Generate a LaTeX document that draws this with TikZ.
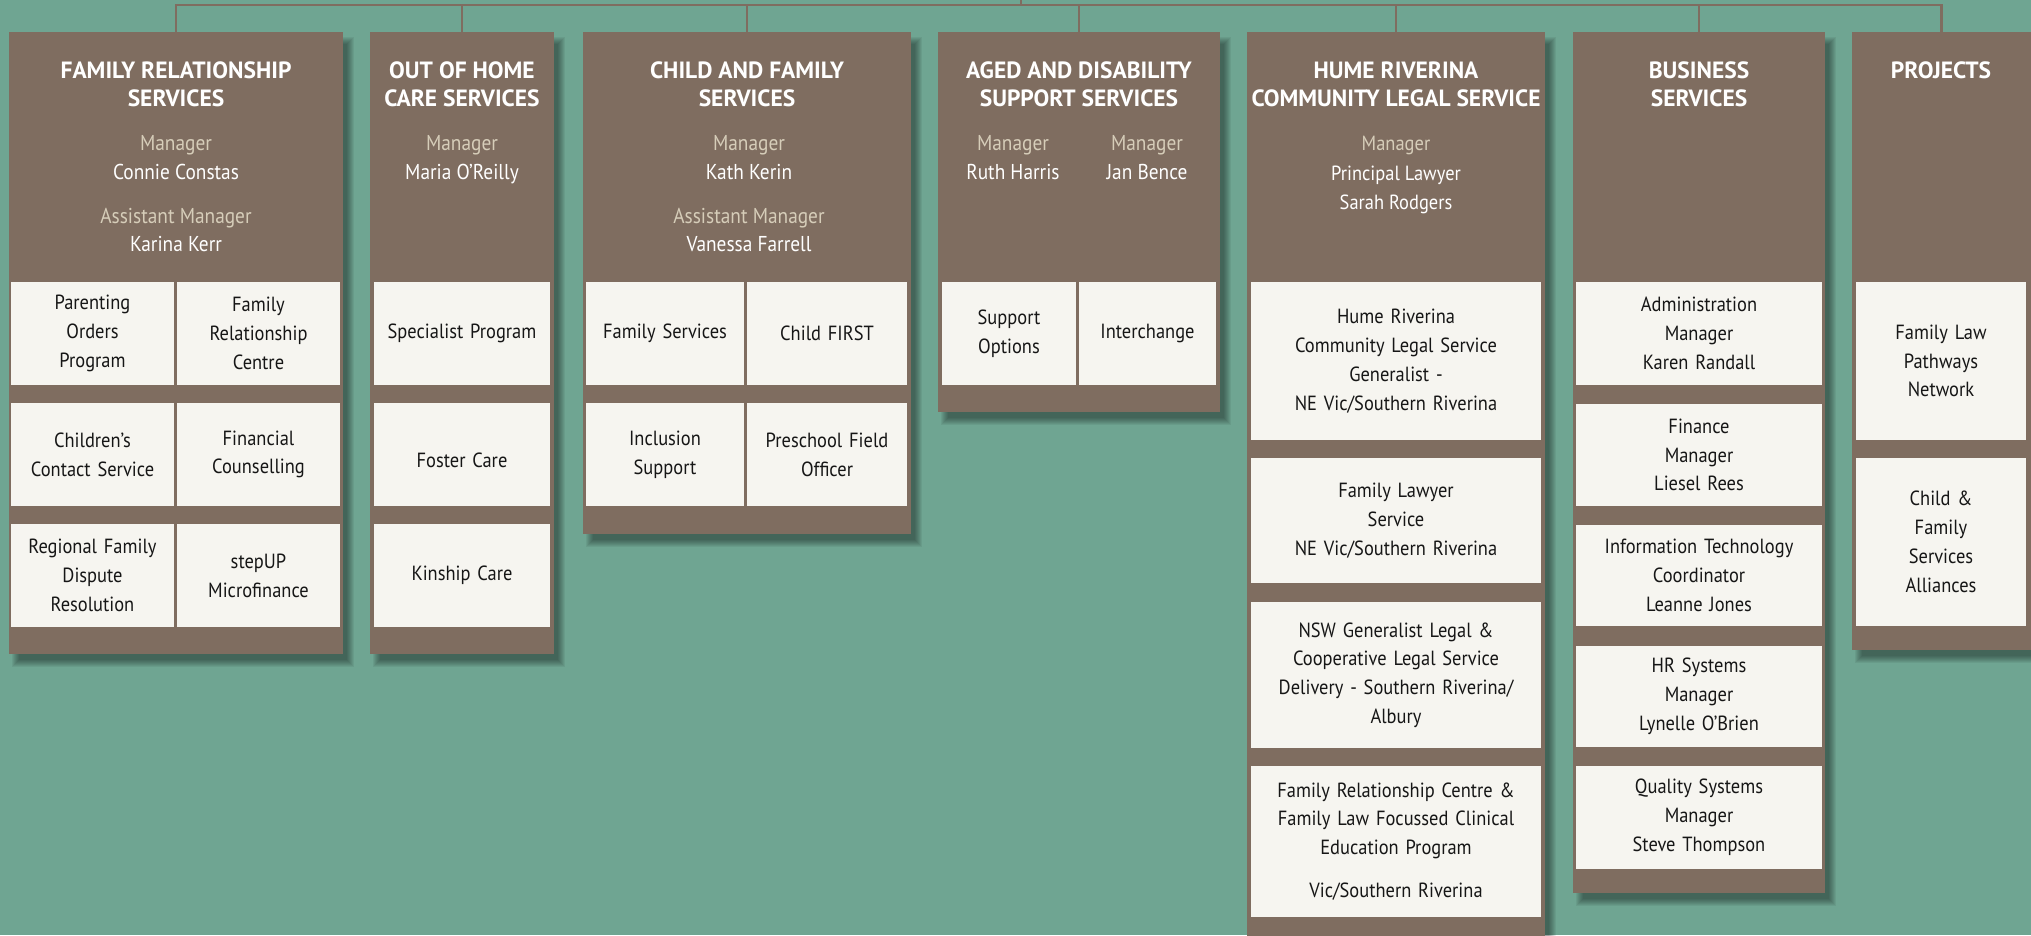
\documentclass[tikz,border=0pt]{standalone}
\usepackage{fontspec}
\setmainfont{PT Sans}[FakeStretch=0.9]
\newfontfamily\ttlfont{PT Sans}
\definecolor{bg}{HTML}{6FA592}
\definecolor{brn}{HTML}{7F6D60}
\definecolor{wbx}{HTML}{F6F5F0}
\definecolor{mgr}{HTML}{D6CDB9}
\definecolor{ink}{HTML}{161616}
\tikzset{
 panel/.style={fill=brn, draw=none, anchor=north west, inner sep=0pt, outer sep=0pt},
 wbox/.style={fill=wbx, draw=none, anchor=north west, inner sep=0pt, outer sep=0pt, align=center, text=ink, font=\fontsize{20.5}{28.8}\selectfont},
 ttl/.style={text=white, font=\ttlfont\bfseries\fontsize{23.5}{29}\selectfont, anchor=base, inner sep=0pt},
 lbl/.style={text=mgr, font=\fontsize{21.5}{29}\selectfont, anchor=base, inner sep=0pt},
 nm/.style={text=white, font=\fontsize{21.5}{29}\selectfont, anchor=base, inner sep=0pt},
 small/.style={font=\fontsize{20.5}{29}\selectfont},
 link/.style={draw=brn, line width=2.2pt},
}
\newcommand\pshadow[4]{%
 \foreach \k in {0,...,7}{\fill[black,opacity=0.055] ({#1+7-4+\k},{#2+9-4+\k}) rectangle ({#3+7+4-\k},{#4+9+4-\k});}}
\newcommand\mkpanel[5]{\pshadow{#2}{#3}{#4}{#5}%
 \node[panel, minimum width={#4-#2}, minimum height={#5-#3}] (#1) at (#2,#3) {};}
\newcommand\wb[6]{\node[wbox, minimum width={#4-#2}, minimum height={#5-#3}, text width={#4-#2-6}] (#1) at (#2,#3) {#6};}
\begin{document}
\begin{tikzpicture}[x=1pt,y=-1pt]
\fill[bg] (0,0) rectangle (2031,935);
\useasboundingbox (0,0) rectangle (2031,935);
\clip (0,0) rectangle (2031,935);
% panels
\mkpanel{frs}{9}{32}{343}{654}
\mkpanel{ooh}{370}{32}{554}{654}
\mkpanel{cfs}{583}{32}{911}{534}
\mkpanel{ads}{938}{32}{1220}{412}
\mkpanel{hr}{1247}{32}{1545}{950}
\mkpanel{bs}{1573}{32}{1825}{893}
\mkpanel{proj}{1852}{32}{2031}{650}
% connectors
\coordinate (top) at (1021,-2);
\coordinate (bus) at (1021,5);
\draw[link] (top) -- (bus);
\foreach \p in {frs,ooh,cfs,ads,hr,bs,proj}{\draw[link] (\p.north) |- (bus);}
% FRS header
\node[ttl] (frs-t1) at (176,78) {FAMILY RELATIONSHIP};
\node[ttl] (frs-t2) at (176,106) {SERVICES};
\node[lbl] (frs-m1) at (176,150) {Manager};
\node[nm] (frs-n1) at (176,179) {Connie Constas};
\node[lbl] (frs-m2) at (176,223) {Assistant Manager};
\node[nm] (frs-n2) at (176,251) {Karina Kerr};
% OOH header
\node[ttl] (ooh-t1) at (462,78) {OUT OF HOME};
\node[ttl] (ooh-t2) at (462,106) {CARE SERVICES};
\node[lbl] (ooh-m1) at (462,150) {Manager};
\node[nm] (ooh-n1) at (462,179) {Maria O’Reilly};
% CFS header
\node[ttl] (cfs-t1) at (747,78) {CHILD AND FAMILY};
\node[ttl] (cfs-t2) at (747,106) {SERVICES};
\node[lbl] (cfs-m1) at (749,150) {Manager};
\node[nm] (cfs-n1) at (749,179) {Kath Kerin};
\node[lbl] (cfs-m2) at (749,223) {Assistant Manager};
\node[nm] (cfs-n2) at (749,251) {Vanessa Farrell};
% ADS header
\node[ttl] (ads-t1) at (1079,78) {AGED AND DISABILITY};
\node[ttl] (ads-t2) at (1079,106) {SUPPORT SERVICES};
\node[lbl] (ads-m1) at (1013,150) {Manager};
\node[nm] (ads-n1) at (1013,179) {Ruth Harris};
\node[lbl] (ads-m2) at (1147,150) {Manager};
\node[nm] (ads-n2) at (1147,179) {Jan Bence};
% HR header
\node[ttl] (hr-t1) at (1396,78) {HUME RIVERINA};
\node[ttl] (hr-t2) at (1396,106) {COMMUNITY LEGAL SERVICE};
\node[lbl,small] (hr-m1) at (1396,150) {Manager};
\node[nm,small] (hr-n1) at (1396,180) {Principal Lawyer};
\node[nm,small] (hr-n2) at (1396,209) {Sarah Rodgers};
% BS / Projects header
\node[ttl] (bs-t1) at (1699,78) {BUSINESS};
\node[ttl] (bs-t2) at (1699,106) {SERVICES};
\node[ttl] (proj-t1) at (1941,78) {PROJECTS};
% FRS boxes
\wb{frs-a}{11}{282}{174}{385}{Parenting\\Orders\\Program}
\wb{frs-b}{177}{282}{340}{385}{Family\\Relationship\\Centre}
\wb{frs-c}{11}{403}{174}{506}{Children’s\\Contact Service}
\wb{frs-d}{177}{403}{340}{506}{Financial\\Counselling}
\wb{frs-e}{11}{524}{174}{627}{Regional Family\\Dispute\\Resolution}
\wb{frs-f}{177}{524}{340}{627}{stepUP\\Microfinance}
% OOH boxes
\wb{ooh-a}{374}{282}{550}{385}{Specialist Program}
\wb{ooh-b}{374}{403}{550}{506}{\raisebox{0pt}[\dimexpr\height+12pt\relax]{Foster Care}}
\wb{ooh-c}{374}{524}{550}{627}{Kinship Care}
% CFS boxes
\wb{cfs-a}{586}{282}{744}{385}{Family Services}
\wb{cfs-b}{747}{282}{907}{385}{Child FIRST}
\wb{cfs-c}{586}{403}{744}{506}{Inclusion\\Support}
\wb{cfs-d}{747}{403}{907}{506}{Preschool Field\\Officer}
% ADS boxes
\wb{ads-a}{942}{282}{1076}{385}{Support\\Options}
\wb{ads-b}{1079}{282}{1216}{385}{Interchange}
% HR boxes
\wb{hr-a}{1251}{282}{1541}{440}{Hume Riverina\\Community Legal Service\\Generalist -\\NE Vic/Southern Riverina}
\wb{hr-b}{1251}{458}{1541}{583}{Family Lawyer\\Service\\NE Vic/Southern Riverina}
\wb{hr-c}{1251}{602}{1541}{748}{NSW Generalist Legal \&\\Cooperative Legal Service\\Delivery - Southern Riverina/\\Albury}
\wb{hr-d}{1251}{766}{1541}{917}{Family Relationship Centre \&\\Family Law Focussed Clinical\\Education Program\\[14pt]Vic/Southern Riverina}
% BS boxes
\wb{bs-a}{1576}{282}{1822}{385}{Administration\\Manager\\Karen Randall}
\wb{bs-b}{1576}{404}{1822}{506}{Finance\\Manager\\Liesel Rees}
\wb{bs-c}{1576}{525}{1822}{626}{Information Technology\\Coordinator\\Leanne Jones}
\wb{bs-d}{1576}{646}{1822}{747}{HR Systems\\Manager\\Lynelle O’Brien}
\wb{bs-e}{1576}{766}{1822}{869}{Quality Systems\\Manager\\Steve Thompson}
% Projects boxes
\wb{proj-a}{1856}{282}{2026}{440}{Family Law\\Pathways\\Network}
\wb{proj-b}{1856}{458}{2026}{626}{Child \&\\Family\\Services\\Alliances}
\end{tikzpicture}
\end{document}
